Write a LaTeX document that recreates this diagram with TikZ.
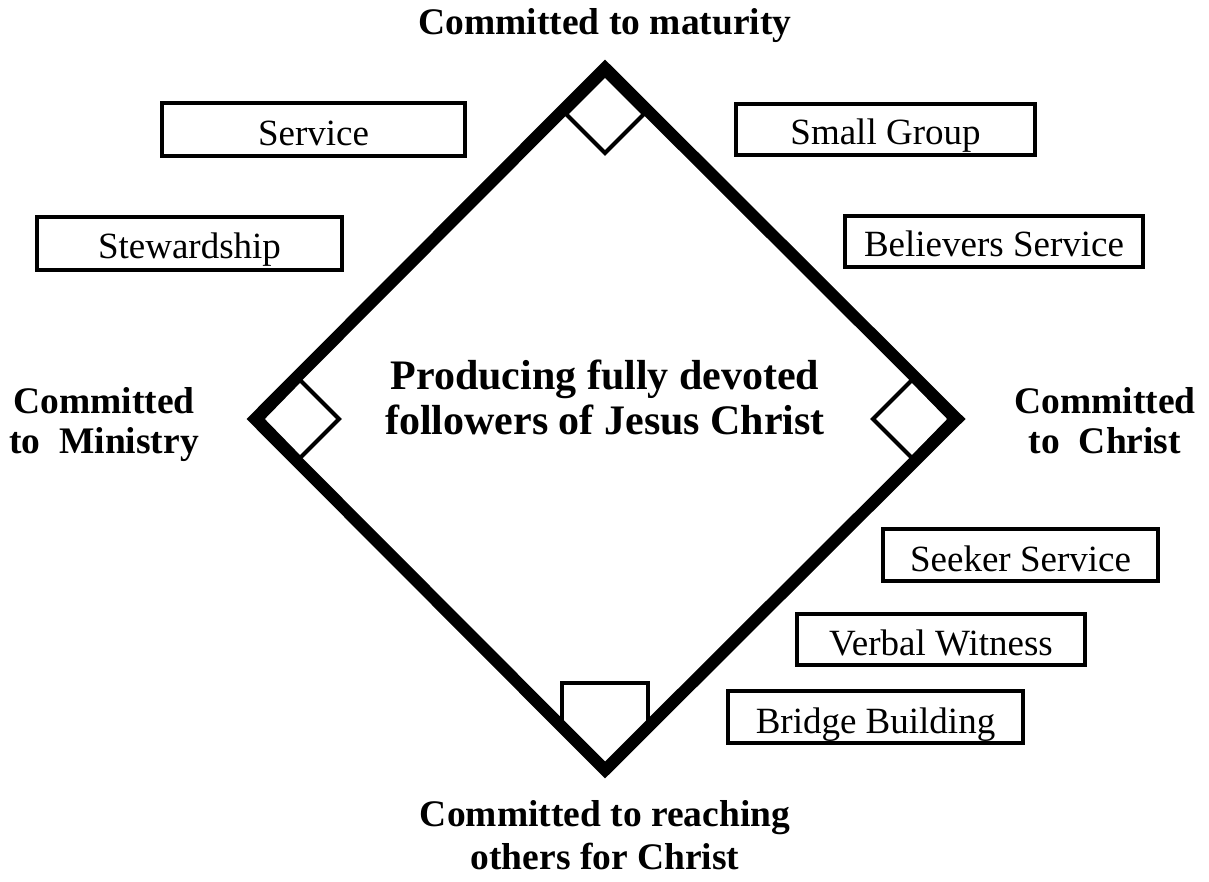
\documentclass[tikz,border=0pt]{standalone}
\usepackage{fontspec}
\setmainfont{Liberation Serif}
\begin{document}
\begin{tikzpicture}[x=1pt,y=-1pt,
  field/.style={line width=12pt,line join=miter},
  base/.style={line width=4pt,fill=white,line join=miter},
  boxstyle/.style={draw,line width=3.5pt,fill=white},
  boxtext/.style={anchor=base,inner sep=0pt,font=\fontsize{37}{44}\selectfont},
  label/.style={anchor=base,inner sep=0pt,align=center,font=\fontsize{37.5}{40}\selectfont\bfseries},
  center/.style={anchor=base,inner sep=0pt,align=center,font=\fontsize{42}{45}\selectfont\bfseries}]
\useasboundingbox (0,0) rectangle (1209,882);
% corners of the diamond
\coordinate (T) at (605,68);
\coordinate (R) at (957,419);
\coordinate (B) at (605,770);
\coordinate (L) at (255,419);
% home plate
\draw[base] (562,727) -- (562,683) -- (648,683) -- (648,727);
% bases
\draw[base] (605,75) -- (644,114) -- (605,153) -- (566,114) -- cycle;
\draw[base] (262,419) -- (300,380) -- (339,419) -- (300,458) -- cycle;
\draw[base] (950,419) -- (912,380) -- (873,419) -- (912,458) -- cycle;
% the field
\draw[field] (T) -- (R) -- (B) -- (L) -- cycle;
% boxes
\draw[boxstyle] (162,103) rectangle (465,156);
\node[boxtext] (service) at (313.5,146) {Service};
\draw[boxstyle] (37,217) rectangle (342,270);
\node[boxtext] (steward) at (189.5,259) {Stewardship};
\draw[boxstyle] (736,104) rectangle (1035,155);
\node[boxtext] (small) at (885.5,145) {Small Group};
\draw[boxstyle] (845,216) rectangle (1143,267);
\node[boxtext] (believers) at (994,257) {Believers Service};
\draw[boxstyle] (883,529) rectangle (1158,581);
\node[boxtext] (seeker) at (1020.5,571) {Seeker Service};
\draw[boxstyle] (797,614) rectangle (1085,665);
\node[boxtext] (verbal) at (941,655) {Verbal Witness};
\draw[boxstyle] (728,691) rectangle (1023,743);
\node[boxtext] (bridge) at (875.5,733) {Bridge Building};
% labels
\node[label] (top) at (605,35) {Committed to maturity};
\node[label] (leftA) at (104,413) {Committed};
\node[label] (leftB) at (104,453) {to\ \ Ministry};
\node[label] (rightA) at (1105,413) {Committed};
\node[label] (rightB) at (1105,453) {to\ \ Christ};
\node[label] (botA) at (605,826) {Committed to reaching};
\node[label] (botB) at (605,869) {others for Christ};
\node[center] (midA) at (605,389) {Producing fully devoted};
\node[center] (midB) at (605,434) {followers of Jesus Christ};
\end{tikzpicture}
\end{document}
